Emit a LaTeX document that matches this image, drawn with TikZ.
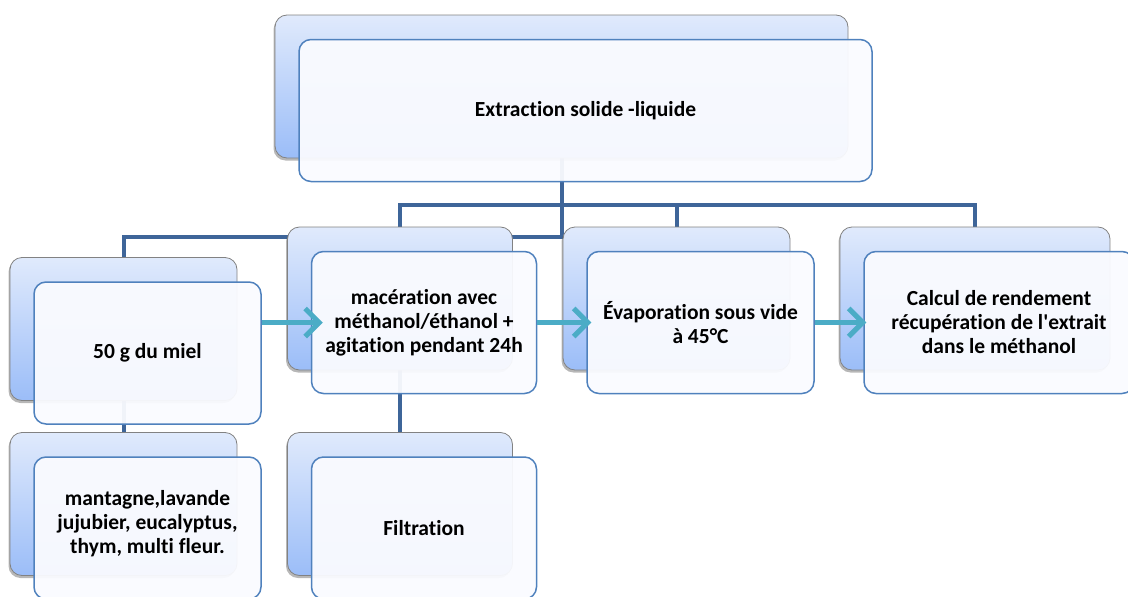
\documentclass[tikz,border=0pt]{standalone}
\usepackage{fontspec}
\setmainfont{Carlito}[Ligatures=NoCommon]
\usetikzlibrary{arrows.meta,shadows,backgrounds}

\definecolor{linkblue}{RGB}{62,101,153}
\definecolor{frontedge}{RGB}{79,129,189}
\definecolor{frontfill}{RGB}{250,251,255}
\definecolor{backtop}{RGB}{224,234,252}
\definecolor{backbot}{RGB}{155,189,248}
\definecolor{backedge}{RGB}{130,130,130}
\definecolor{flowteal}{RGB}{75,172,198}

\begin{document}
\begin{tikzpicture}[x=1pt,y=-1pt,
	backbox/.style={rounded corners=12pt, draw=backedge, line width=0.8pt, top color=backtop, bottom color=backbot, minimum height=143pt,
		drop shadow={shadow xshift=-1.5pt, shadow yshift=-2.5pt, opacity=0.4, fill=black!70}},
	frontbox/.style={rounded corners=12pt, draw=frontedge, line width=1.5pt, fill=frontfill, fill opacity=0.95, text opacity=1,
		minimum height=142pt, align=center, font=\bfseries\fontsize{21.5}{24}\selectfont},
	link/.style={draw=linkblue, line width=4pt},
	flow/.style={draw=flowteal, line width=5pt, -{Straight Barb[length=14pt,width=28pt]}}]
	\useasboundingbox (0,0) rectangle (1128,597);
	\newcommand\boxpair[5]{
		\node[backbox, minimum width=#4] (#1B) at (#2,#3) {};
		\node[frontbox, minimum width=#4] (#1) at ([shift={(24,24)}]#1B) {#5};
	}
	% top
	\boxpair{root}{561.5}{86.5}{573pt}{Extraction solide -liquide}
	% second row
	\boxpair{miel}{123.5}{329}{227pt}{50 g du miel}
	\boxpair{mac}{400}{298.5}{225pt}{mac\'eration avec\\m\'ethanol/\'ethanol +\\agitation pendant 24h}
	\boxpair{evap}{676.5}{298.5}{227pt}{\'Evaporation sous vide\\\`a 45°C}
	\boxpair{calc}{975}{298.5}{270pt}{Calcul de rendement\\r\'ecup\'eration de l\textquotesingle extrait\\dans le m\'ethanol}
	% bottom row
	\boxpair{fleur}{123.5}{504}{227pt}{mantagne,lavande\\jujubier, eucalyptus,\\thym, multi fleur.\\[-12pt]}
	\boxpair{filt}{400}{504}{225pt}{Filtration}
	\begin{scope}[on background layer]
		\draw[link] (rootB.south) -- ++(0,79) -| (mielB.north);
		\draw[link] (macB.north) |- ([yshift=-47pt]rootB.south) -| (calcB.north);
		\draw[link] ([yshift=-47pt]rootB.south) -| (evapB.north);
		\draw[link] (mielB.south) -- (fleurB.north);
		\draw[link] (macB.south) -- (filtB.north);
	\end{scope}
	\draw[flow] (miel.east |- mac.west) -- ([xshift=12pt]mac.west);
	\draw[flow] (mac.east) -- ([xshift=5pt]evap.west);
	\draw[flow] (evap.east) -- ([xshift=3pt]calc.west);
\end{tikzpicture}
\end{document}
